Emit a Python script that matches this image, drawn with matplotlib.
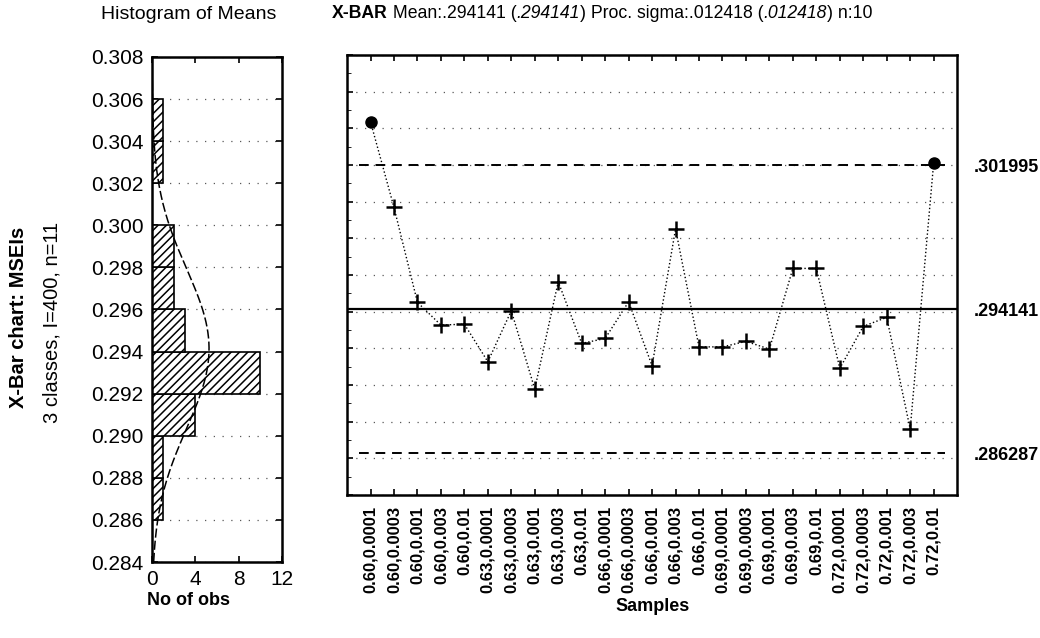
import numpy as np
import matplotlib
matplotlib.use("Agg")
import matplotlib.pyplot as plt
from matplotlib.ticker import MultipleLocator, FormatStrFormatter

plt.rcParams['font.family'] = ['Liberation Sans', 'DejaVu Sans']
plt.rcParams['hatch.linewidth'] = 1.1

# sample groups: first param, second param
group_a = ['0.60', '0.63', '0.66', '0.69', '0.72']
group_b = ['0.0001', '0.0003', '0.001', '0.003', '0.01']
sample_labels = [a + ',' + b for a in group_a for b in group_b]

# x-bar sample means
means = [0.30436, 0.29969, 0.29451, 0.29327, 0.29332,
         0.29127, 0.29405, 0.28978, 0.29563, 0.29227,
         0.29254, 0.29454, 0.29105, 0.29851, 0.29208,
         0.29208, 0.29238, 0.29196, 0.29636, 0.29636,
         0.29091, 0.29320, 0.29369, 0.28760, 0.30210]

center = 0.294141
ucl = 0.301995
lcl = 0.286287
proc_sigma = 0.012418
n_per = 10

# histogram of means
hist_edges = [0.284, 0.286, 0.288, 0.290, 0.292, 0.294, 0.296,
              0.298, 0.300, 0.302, 0.304, 0.306]
hist_counts = [0, 1, 1, 4, 10, 3, 2, 2, 0, 1, 1]

fig = plt.figure(figsize=(10.4, 6.38), dpi=100)
ax_h = fig.add_axes([0.1462, 0.1191, 0.125, 0.7916])
ax = fig.add_axes([0.3337, 0.2241, 0.5866, 0.6897])

# ---- histogram ----
bw = hist_edges[1] - hist_edges[0]
ax_h.barh(hist_edges[:-1], hist_counts, height=bw, align='edge',
          color='white', edgecolor='black', hatch='////', lw=1.2, zorder=2)
yy = np.linspace(0.284, 0.308, 300)
mu = np.mean(means)
sd = np.std(means, ddof=1)
curve = len(means) * bw * np.exp(-0.5 * ((yy - mu) / sd) ** 2) / (sd * np.sqrt(2 * np.pi))
ax_h.plot(curve, yy, color='black', lw=1.1, ls=(0, (6, 2)), zorder=3)
ax_h.set_xlim(0, 12)
ax_h.set_ylim(0.284, 0.308)
ax_h.set_xticks([0, 4, 8, 12])
ax_h.yaxis.set_major_locator(MultipleLocator(0.002))
ax_h.yaxis.set_major_formatter(FormatStrFormatter('%.3f'))
ax_h.tick_params(direction='in', top=True, right=True, length=4, width=1.2,
                 labelsize=15, pad=6)
ax_h.grid(axis='y', ls=(0, (1, 6)), color='0.35', lw=0.9)
for s in ax_h.spines.values():
    s.set_linewidth(1.8)

# ---- x-bar chart ----
x = np.arange(1, len(means) + 1)
m = np.array(means)
out = (m > ucl) | (m < lcl)
ax.plot(x, m, color='black', lw=1.0, ls=':', zorder=3)
ax.plot(x[~out], m[~out], '+', color='black', ms=12, mew=1.8, zorder=4)
ax.plot(x[out], m[out], 'o', color='black', ms=8, zorder=4)
ax.axhline(center, color='black', lw=1.6, zorder=2)
ax.hlines([ucl, lcl], 0.5, len(means) + 0.5, colors='black',
          linestyles=(0, (5, 3.5)), lw=1.4, zorder=2)

ax.set_xlim(0, len(means) + 1)
ax.set_ylim(0.284, 0.308)
ax.set_xticks(x)
ax.set_xticklabels(sample_labels, rotation=90, fontsize=12, fontweight='bold')
ax.yaxis.set_major_locator(MultipleLocator(0.002))
ax.yaxis.set_minor_locator(MultipleLocator(0.001))
ax.tick_params(direction='in', top=True, right=True, length=4, width=1.2, pad=8)
ax.tick_params(axis='y', which='both', labelleft=False)
ax.tick_params(axis='y', which='minor', direction='in', left=True, right=True, length=3)
ax.grid(axis='y', ls=(0, (1, 6)), color='0.35', lw=0.9)
for s in ax.spines.values():
    s.set_linewidth(1.8)

ax2 = ax.twinx()
ax2.set_ylim(ax.get_ylim())
ax2.set_yticks([ucl, center, lcl])
ax2.set_yticklabels([('%.6f' % v)[1:] for v in (ucl, center, lcl)],
                    fontsize=13, fontweight='bold')
ax2.tick_params(axis='y', length=0, pad=12)
for s in ax2.spines.values():
    s.set_visible(False)

# ---- text ----
fig.text(0.181, 0.978, 'Histogram of Means', fontsize=14, ha='center', va='center')
fig.text(0.181, 0.059, 'No of obs', fontsize=13, fontweight='bold', ha='center', va='center')
fig.text(0.627, 0.050, 'Samples', fontsize=13, fontweight='bold', ha='center', va='center')
fig.text(0.018, 0.502, 'X-Bar chart: MSEIs', fontsize=14.5, fontweight='bold',
         rotation=90, ha='center', va='center')
fig.text(0.050, 0.495, '3 classes, I=400, n=11', fontsize=14.5,
         rotation=90, ha='center', va='center')

t = fig.text(0.319, 0.966, 'X-BAR', fontsize=12.7, fontweight='bold', va='bottom')
parts = [(' Mean:%s (' % ('%.6f' % center)[1:], 'normal'),
         (('%.6f' % center)[1:], 'italic'),
         (') Proc. sigma:%s (' % ('%.6f' % proc_sigma)[1:], 'normal'),
         (('%.6f' % proc_sigma)[1:], 'italic'),
         (') n:%d' % n_per, 'normal')]
for txt, style in parts:
    t = ax.annotate(txt, xy=(1, 0), xycoords=t, va='bottom', ha='left',
                    fontsize=12.7, fontstyle=style)

fig.savefig('out.png', dpi=100)
